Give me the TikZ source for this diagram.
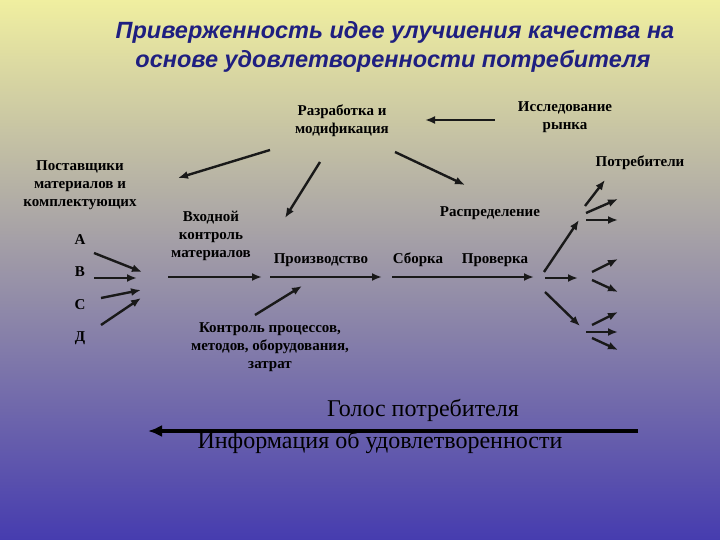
\documentclass[tikz,border=0pt]{standalone}
\usepackage{fontspec}
\usetikzlibrary{arrows.meta}
\setmainfont{Liberation Serif}
\newfontfamily\titlefont{Liberation Sans}
\begin{document}
\begin{tikzpicture}[x=1pt,y=-1pt,
  lbl/.style={font=\bfseries\fontsize{15}{18}\selectfont, align=center, inner sep=1pt},
  arr/.style={-{Latex[length=10pt,width=8pt]}, line width=2.4pt, black!90},
  big/.style={font=\fontsize{24}{26}\selectfont, inner sep=1pt}]
\shade[top color={rgb,255:red,240;green,239;blue,160}, middle color={rgb,255:red,188;green,188;blue,160}, bottom color={rgb,255:red,70;green,60;blue,175}] (0,0) rectangle (720,540);
\useasboundingbox (0,0) rectangle (720,540);
\node (t1) at (395,32) {\titlefont\bfseries\itshape\fontsize{23.5}{25}\selectfont\color[rgb]{0.12,0.12,0.5}Приверженность идее улучшения качества на};
\node (t2) at (393,61) {\titlefont\bfseries\itshape\fontsize{23.5}{25}\selectfont\color[rgb]{0.12,0.12,0.5}основе удовлетворенности потребителя};
\node[lbl] (razr) at (342,121) {Разработка и\\модификация};
\node[lbl] (issl) at (565,117) {Исследование\\рынка};
\node[lbl] (potr) at (640,163) {Потребители};
\node[lbl] (post) at (80,185) {Поставщики\\материалов и\\комплектующих};
\node[lbl] (A) at (80,240) {А};
\node[lbl] (B) at (80,272) {В};
\node[lbl] (C) at (80,305) {С};
\node[lbl] (D) at (80,338) {Д};
\node[lbl] (vh) at (211,236) {Входной\\контроль\\материалов};
\node[lbl] (proizv) at (321,260) {Производство};
\node[lbl] (raspr) at (490,213) {Распределение};
\node[lbl] (sb) at (418,260) {Сборка};
\node[lbl] (prov) at (495,260) {Проверка};
\node[lbl] (kontr) at (270,347) {Контроль процессов,\\методов, оборудования,\\затрат};
\node[big] (golos) at (423,410) {Голос потребителя};
\node[big] (inf) at (380,442) {Информация об удовлетворенности};
\foreach \n/\x/\y in {a1/495/120,a2/425/120,b1/270/150,b2/178/178,c1/320/162,c2/285/218,d1/395/152,d2/465/185,
 l1/168/277,l2/262/277,m1/270/277,m2/382/277,n1/392/277,n2/534/277,
 k1/255/315,k2/302/286,
 pa1/94/253,pa2/142/272,pb1/94/278,pb2/137/278,pc1/101/298,pc2/141/290,pd1/101/325,pd2/141/298,
 r1/544/272,r2/579/220,r3/545/278,r4/578/278,r5/545/292,r6/580/326,
 u1/585/206,u2/605/180,u3/586/213,u4/618/199,u5/586/220,u6/618/220,
 v1/592/272,v2/618/259,v3/592/280,v4/618/292,
 w1/592/325,w2/618/312,w3/586/332,w4/618/332,w5/592/338,w6/618/350,
 g1/638/431,g2/148/431}
 {\coordinate (\n) at (\x,\y);}
\foreach \s/\e in {a1/a2,b1/b2,c1/c2,d1/d2,l1/l2,m1/m2,n1/n2,k1/k2,pa1/pa2,pb1/pb2,pc1/pc2,pd1/pd2,
 r1/r2,r3/r4,r5/r6,u1/u2,u3/u4,u5/u6,v1/v2,v3/v4,w1/w2,w3/w4,w5/w6}
 {\draw[arr] (\s) -- (\e);}
\draw[-{Latex[length=14pt,width=12pt]}, line width=4pt] (g1) -- (g2);
\end{tikzpicture}
\end{document}
